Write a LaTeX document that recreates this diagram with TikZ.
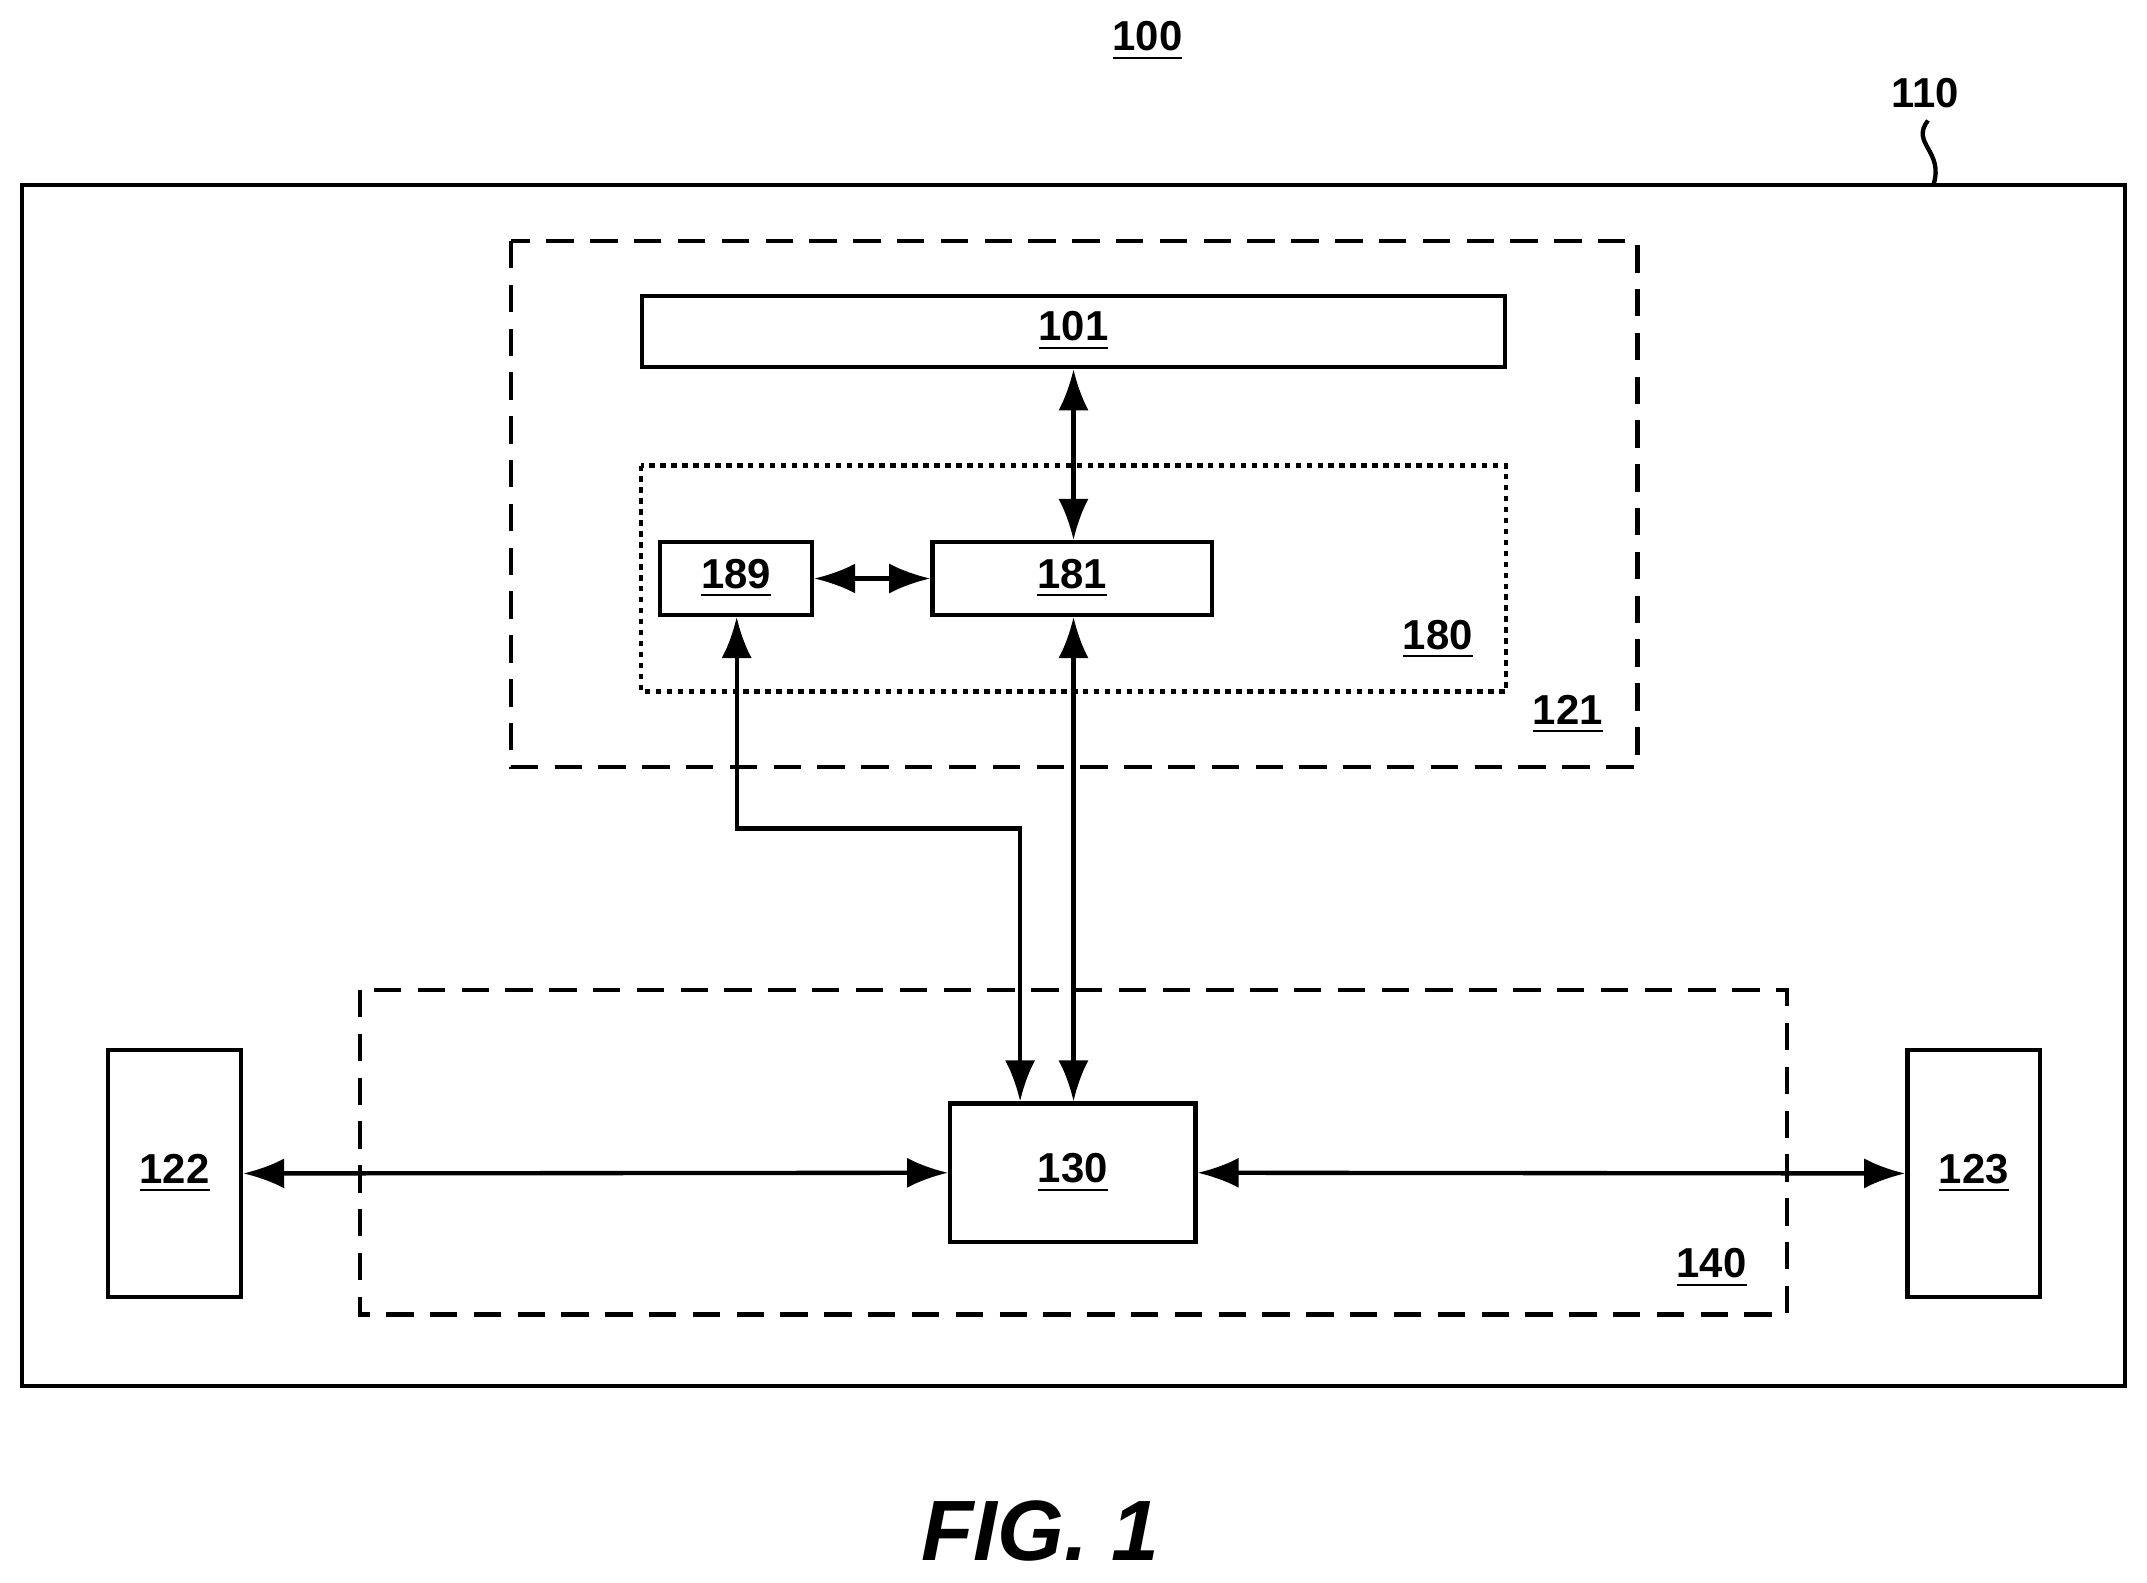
\documentclass[tikz,border=0pt]{standalone}
\usepackage{fontspec}
\setmainfont{Liberation Sans}
\usetikzlibrary{arrows.meta}
\begin{document}
\begin{tikzpicture}[x=1cm,y=-1cm,
  ln/.style={line width=0.9pt},
  box/.style={ln,draw,rectangle},
  lab/.style={font=\fontsize{8.7}{10}\selectfont\bfseries},
  arr/.style={ln,{Latex[length=0.3cm,width=0.22cm]}-{Latex[length=0.3cm,width=0.22cm]}},
  arrone/.style={ln,-{Latex[length=0.3cm,width=0.22cm]}},
  dsh/.style={ln,dash pattern=on 0.2cm off 0.12cm},
  dot/.style={ln,dash pattern=on 0.04cm off 0.04cm}]
\useasboundingbox (0,0) rectangle (15.68,11.56);
\node[lab] (l100) at (8.38,0.30) {\underline{100}};
\draw[box] (0.16,1.35) rectangle (15.52,10.12);
\node[lab] (l110) at (14.06,0.68) {110};
\draw[ln] (14.08,0.88) .. controls (13.95,1.05) and (14.2,1.1) .. (14.12,1.35);
\draw[dsh] (3.73,1.76) rectangle (11.96,5.60);
\node[lab] (l121) at (11.45,5.22) {\underline{121}};
\node[box,lab,minimum width=6.30cm,minimum height=0.52cm] (b101) at (7.84,2.42) {\underline{101}};
\draw[dot] (4.68,3.40) rectangle (11.00,5.05);
\node[lab] (l180) at (10.50,4.67) {\underline{180}};
\node[box,lab,minimum width=1.11cm,minimum height=0.53cm] (b189) at (5.375,4.225) {\underline{189}};
\node[box,lab,minimum width=2.04cm,minimum height=0.53cm] (b181) at (7.83,4.225) {\underline{181}};
\draw[dsh] (2.63,7.23) rectangle (13.05,9.60);
\node[lab] (l140) at (12.50,9.26) {\underline{140}};
\node[box,lab,minimum width=0.97cm,minimum height=1.80cm] (b122) at (1.275,8.57) {\underline{122}};
\node[box,lab,minimum width=0.97cm,minimum height=1.80cm] (b123) at (14.415,8.57) {\underline{123}};
\node[box,lab,minimum width=1.79cm,minimum height=1.01cm] (b130) at (7.835,8.565) {\underline{130}};
\draw[arr] (b101.south -| 7.84,0) -- (b181.north -| 7.84,0);
\draw[arr] (b189.east) -- (b181.west);
\draw[arr] (b181.south -| 7.84,0) -- (b130.north -| 7.84,0);
\draw[arr] (b189.south -| 5.38,0) |- (7.45,6.05) -- (b130.north -| 7.45,0);
\draw[arr] (b122.east) -- (b130.west);
\draw[arr] (b130.east) -- (b123.west);
\node[font=\fontsize{17.8}{20}\selectfont\bfseries\itshape] (fig) at (7.60,11.18) {FIG. 1};
\end{tikzpicture}
\end{document}
